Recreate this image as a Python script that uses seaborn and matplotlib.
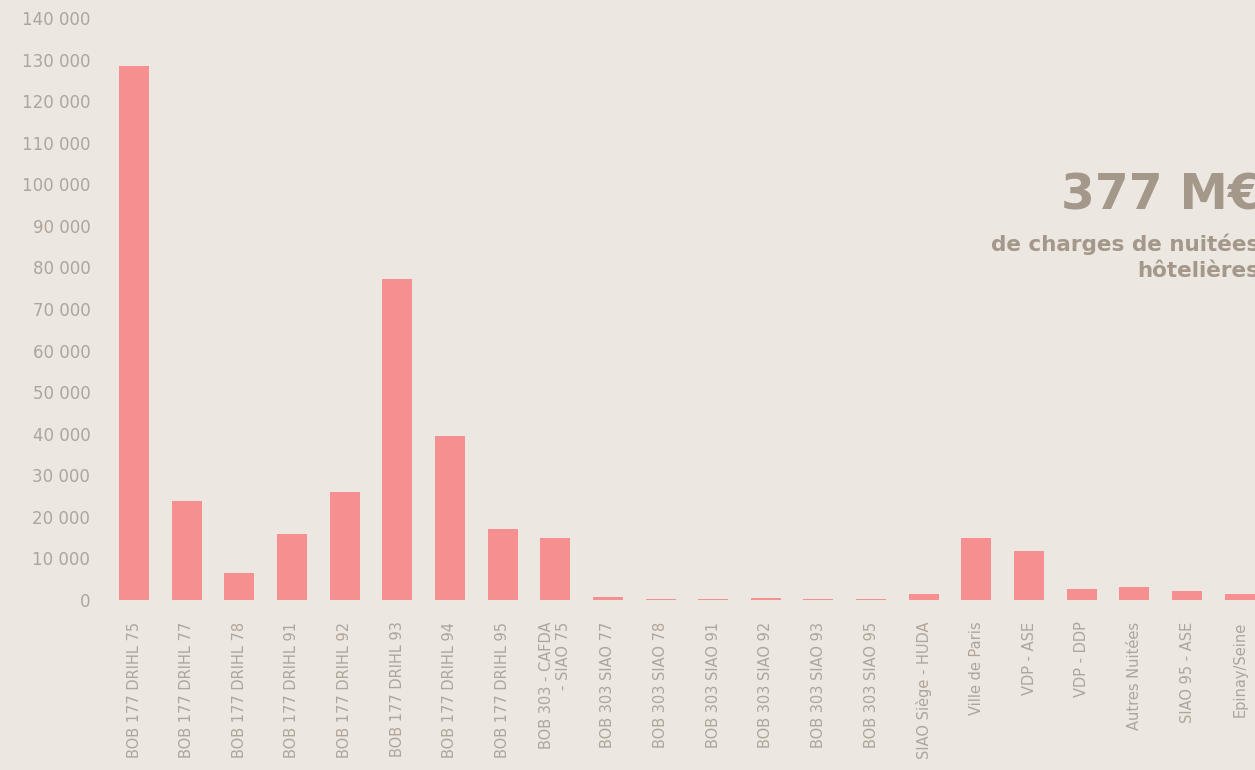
import matplotlib.pyplot as plt
import seaborn as sns

# Charges de nuitées hôtelières par financeur
categories = [
    "BOB 177 DRIHL 75", "BOB 177 DRIHL 77", "BOB 177 DRIHL 78", "BOB 177 DRIHL 91",
    "BOB 177 DRIHL 92", "BOB 177 DRIHL 93", "BOB 177 DRIHL 94", "BOB 177 DRIHL 95",
    "BOB 303 - CAFDA\n- SIAO 75", "BOB 303 SIAO 77", "BOB 303 SIAO 78", "BOB 303 SIAO 91",
    "BOB 303 SIAO 92", "BOB 303 SIAO 93", "BOB 303 SIAO 95", "SIAO Siège - HUDA",
    "Ville de Paris", "VDP - ASE", "VDP - DDP", "Autres Nuitées", "SIAO 95 - ASE",
    "Epinay/Seine",
]
valeurs = [
    128500, 23800, 6500, 15900, 26000, 77200, 39500, 17100,
    14900, 800, 200, 200, 400, 300, 200, 1500,
    14900, 11800, 2700, 3200, 2200, 1500,
]
yticks = list(range(0, 140001, 10000))

bg = "#ece7e1"
bar_color = "#f58f90"
tick_color = "#aea59b"
title_color = "#a39889"

sns.set_theme(style="white")
plt.rcParams["font.family"] = ["DejaVu Sans"]

fig = plt.figure(figsize=(12.55, 7.7), dpi=100, facecolor=bg)
ax = fig.add_axes([107.7 / 1255, 1 - 600 / 770, (1266 - 107.7) / 1255, 582 / 770])
ax.set_facecolor(bg)

sns.barplot(x=categories, y=valeurs, color=bar_color, saturation=1, width=0.57,
            linewidth=0, ax=ax)

ax.set_ylim(0, 140000)
ax.set_xlim(-0.5, len(categories) - 0.5)
ax.set_yticks(yticks)
ax.set_yticklabels([f"{v:,}".replace(",", " ") for v in yticks])
ax.tick_params(axis="y", length=0, pad=12.5, labelsize=12, labelcolor=tick_color)
ax.tick_params(axis="x", length=0, pad=15.5, labelsize=10.5, labelcolor=tick_color)
for lab in ax.get_xticklabels():
    lab.set_rotation(90)
    lab.set_ha("center")
    lab.set_va("top")
    lab.set_multialignment("right")
for s in ax.spines.values():
    s.set_visible(False)
ax.set_xlabel("")
ax.set_ylabel("")

fig.text(1262 / 1255, 1 - 195 / 770, "377 M€", ha="right", va="center",
         fontsize=35, fontweight="bold", color=title_color)
fig.text(1259 / 1255, 1 - 257 / 770, "de charges de nuitées\nhôtelières", ha="right",
         va="center", fontsize=15.5, fontweight="bold", color=title_color,
         linespacing=1.35)

plt.savefig("out.png", dpi=100, facecolor=bg)
